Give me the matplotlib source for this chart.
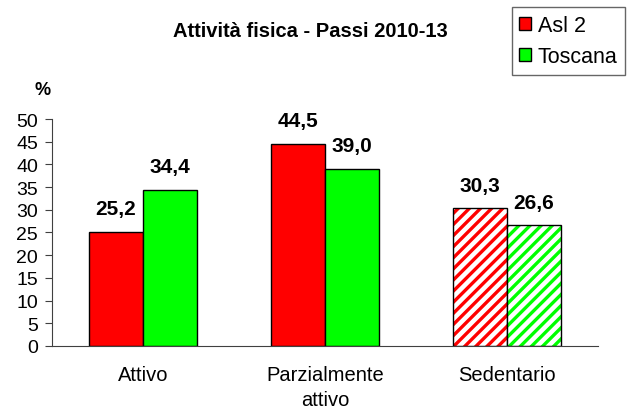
import numpy as np
import matplotlib.pyplot as plt
from matplotlib.patches import Patch

plt.rcParams['font.family'] = ['Liberation Sans', 'DejaVu Sans']
plt.rcParams['hatch.linewidth'] = 2.4

categorie = ['Attivo', 'Parzialmente\nattivo', 'Sedentario']
asl2 = [25.2, 44.5, 30.3]
toscana = [34.4, 39.0, 26.6]
tratteggio = [False, False, True]

rosso = '#ff0000'
verde = '#00ff00'
grigio = '#404040'

fig = plt.figure(figsize=(6.28, 4.10), dpi=100)
ax = fig.add_axes([0.083, 0.154, 0.869, 0.553])

x = np.arange(len(categorie))
w = 0.297

for serie, col, off in [(asl2, rosso, -w / 2), (toscana, verde, w / 2)]:
    for i, v in enumerate(serie):
        if tratteggio[i]:
            ax.bar(x[i] + off, v, w, color='white', edgecolor=col, hatch='///', linewidth=0)
            ax.bar(x[i] + off, v, w, fill=False, edgecolor='black', linewidth=1)
        else:
            ax.bar(x[i] + off, v, w, color=col, edgecolor='black', linewidth=1)
        ax.text(x[i] + off, v + 3.0, f'{v:.1f}'.replace('.', ','), ha='center', va='bottom',
                fontsize=15, fontweight='bold')

ax.set_xlim(-0.5, 2.5)
ax.set_ylim(0, 50)
ax.set_yticks(range(0, 51, 5))
ax.set_xticks(x)
ax.set_xticklabels(categorie, fontsize=14.5, linespacing=1.4)
ax.tick_params(axis='x', length=0, pad=14)
ax.tick_params(axis='y', direction='out', length=5, color=grigio, labelsize=14, pad=5)
for s in ['top', 'right']:
    ax.spines[s].set_visible(False)
ax.spines['left'].set_color(grigio)
ax.spines['bottom'].set_color(grigio)

fig.text(0.495, 0.922, 'Attività fisica - Passi 2010-13', ha='center', va='center',
         fontsize=14.5, fontweight='bold')
fig.text(0.068, 0.78, '%', ha='center', va='center', fontsize=13, fontweight='bold')

handles = [Patch(facecolor=rosso, edgecolor='black'), Patch(facecolor=verde, edgecolor='black')]
leg = fig.legend(handles, ['Asl 2', 'Toscana'], loc='upper right', bbox_to_anchor=(0.995, 0.98),
                 fontsize=15.5, frameon=True, fancybox=False, handlelength=0.55, handleheight=0.55,
                 handletextpad=0.3, borderpad=0.35, labelspacing=0.5, borderaxespad=0)
leg.get_frame().set_edgecolor(grigio)
leg.get_frame().set_linewidth(1)

fig.savefig('out.png', dpi=100)
